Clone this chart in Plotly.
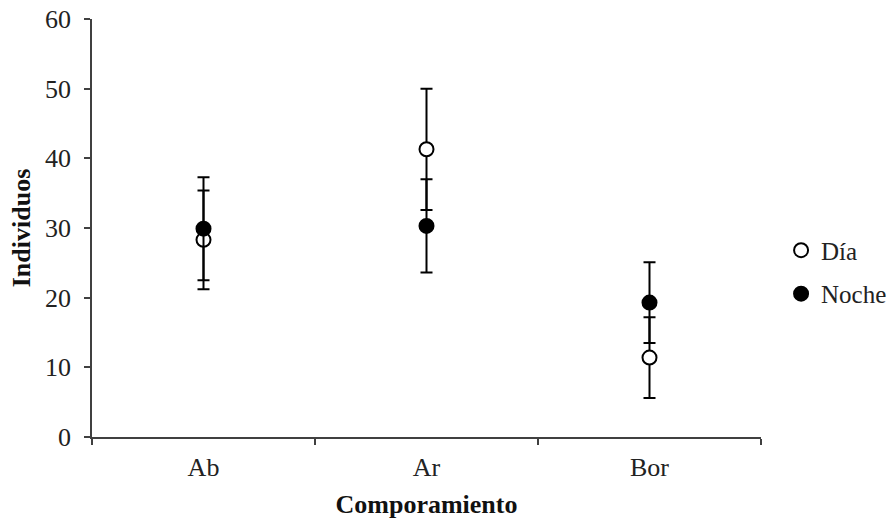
import plotly.graph_objects as go

categories = ["Ab", "Ar", "Bor"]
dia_mean = [28.3, 41.3, 11.4]
dia_err = [7.1, 8.7, 5.8]
noche_mean = [29.9, 30.3, 19.3]
noche_err = [7.4, 6.7, 5.8]

font_family = "Liberation Serif"

fig = go.Figure()
fig.add_trace(go.Scatter(
    x=categories, y=dia_mean, mode="markers", name="Día",
    marker=dict(symbol="circle", size=14, color="white", line=dict(color="black", width=2)),
    error_y=dict(type="data", array=dia_err, visible=True, color="black", thickness=2, width=6),
    legendgroup="a",
))
fig.add_trace(go.Scatter(
    x=categories, y=noche_mean, mode="markers", name="Noche",
    marker=dict(symbol="circle", size=14, color="black", line=dict(color="black", width=2)),
    error_y=dict(type="data", array=noche_err, visible=True, color="black", thickness=2, width=6),
    legendgroup="b",
))

fig.update_layout(
    width=891, height=523,
    margin=dict(l=92, r=130, t=19, b=86, autoexpand=False),
    plot_bgcolor="white", paper_bgcolor="white",
    font=dict(family=font_family, size=25, color="#222"),
    showlegend=True,
    legend=dict(x=1.03, y=0.395, xanchor="left", yanchor="middle",
                font=dict(family=font_family, size=25, color="#222"),
                traceorder="grouped", tracegroupgap=8,
                itemwidth=30),
    xaxis=dict(
        type="category", range=[-0.5, 2.5], automargin=False,
        showline=True, linecolor="#404040", linewidth=1.5,
        ticks="outside", ticklen=6, tickcolor="#404040", tickwidth=1.5,
        tickson="boundaries", showgrid=False, zeroline=False,
        ticklabelstandoff=6,
        tickfont=dict(family=font_family, size=26, color="#222"),
        title=dict(text="<b>Comporamiento</b>", font=dict(family=font_family, size=26, color="#111"), standoff=14),
    ),
    yaxis=dict(
        range=[0, 60], dtick=10, automargin=False,
        showline=True, linecolor="#404040", linewidth=1.5,
        ticks="outside", ticklen=6, tickcolor="#404040", tickwidth=1.5,
        showgrid=False, zeroline=False,
        ticklabelstandoff=8,
        tickfont=dict(family=font_family, size=26, color="#222"),
        title=dict(text="<b>Individuos</b>", font=dict(family=font_family, size=26, color="#111"), standoff=7),
    ),
)

fig.write_html("out.html")
